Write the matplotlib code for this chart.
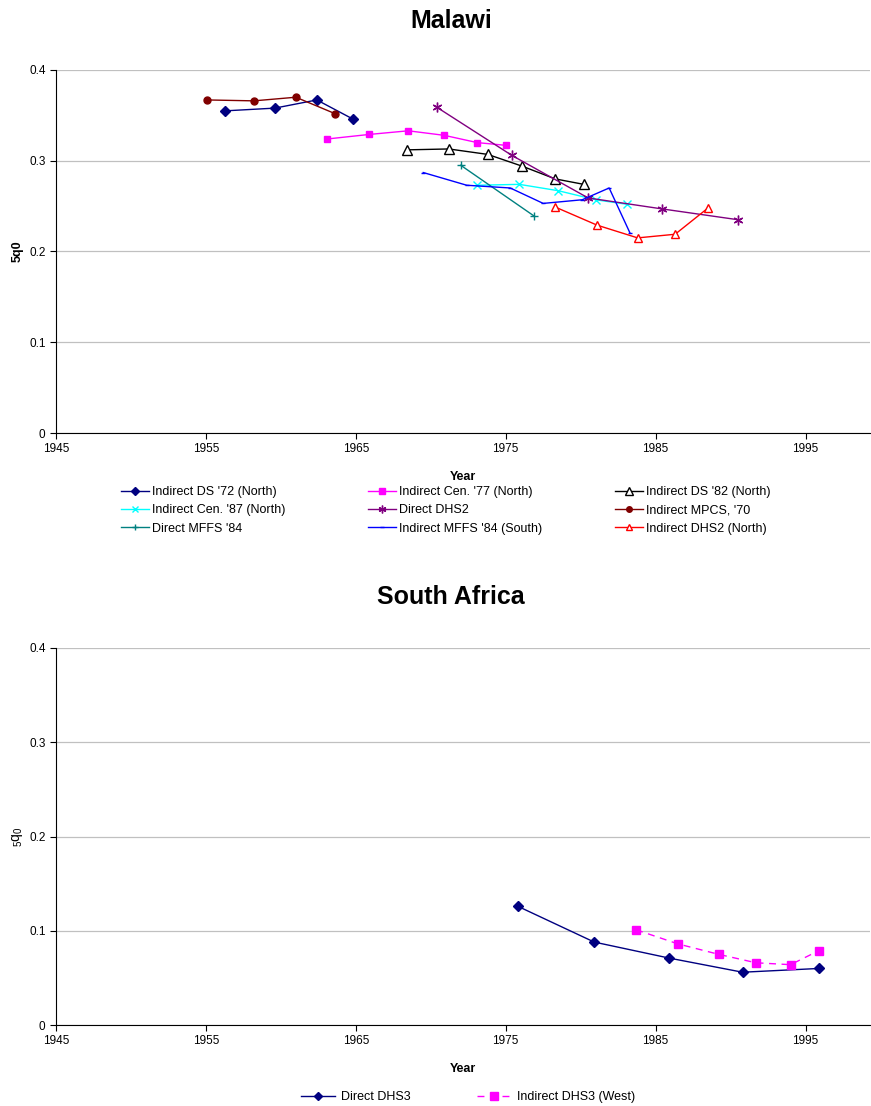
import matplotlib
matplotlib.use("Agg")
from matplotlib import pyplot as plt

plt.rcParams['font.family'] = ['Liberation Sans', 'DejaVu Sans']
plt.rcParams['mathtext.fontset'] = 'custom'
plt.rcParams['mathtext.rm'] = 'Liberation Sans'
plt.rcParams['mathtext.it'] = 'Liberation Sans'

# Malawi series (year, 5q0)
ds72_years = [1956.3, 1959.6, 1962.4, 1964.8]
ds72_q = [0.355, 0.358, 0.367, 0.346]

cen77_years = [1963.1, 1965.9, 1968.5, 1970.9, 1973.1, 1975.0]
cen77_q = [0.324, 0.329, 0.333, 0.328, 0.320, 0.317]

ds82_years = [1968.4, 1971.2, 1973.8, 1976.1, 1978.3, 1980.2]
ds82_q = [0.312, 0.313, 0.307, 0.294, 0.280, 0.274]

cen87_years = [1973.1, 1975.9, 1978.5, 1981.0, 1983.1]
cen87_q = [0.273, 0.274, 0.267, 0.257, 0.252]

dhs2_years = [1970.4, 1975.4, 1980.5, 1985.4, 1990.5]
dhs2_q = [0.359, 0.306, 0.259, 0.247, 0.235]

mpcs_years = [1955.1, 1958.2, 1961.0, 1963.6]
mpcs_q = [0.367, 0.366, 0.370, 0.352]

mffs_years = [1972.0, 1976.9]
mffs_q = [0.295, 0.239]

mffs_s_years = [1969.5, 1972.4, 1975.3, 1977.5, 1980.1, 1981.9, 1983.3]
mffs_s_q = [0.287, 0.273, 0.270, 0.253, 0.257, 0.270, 0.220]

dhs2n_years = [1978.3, 1981.1, 1983.8, 1986.3, 1988.5]
dhs2n_q = [0.249, 0.229, 0.215, 0.219, 0.248]

# South Africa series
dhs3_years = [1975.8, 1980.9, 1985.9, 1990.8, 1995.9]
dhs3_q = [0.126, 0.088, 0.071, 0.056, 0.060]

dhs3w_years = [1983.7, 1986.5, 1989.2, 1991.7, 1994.0, 1995.9]
dhs3w_q = [0.101, 0.086, 0.075, 0.066, 0.064, 0.079]

xticks = [1945, 1955, 1965, 1975, 1985, 1995]
yticks = [0, 0.1, 0.2, 0.3, 0.4]

W, H = 871, 1106


def style_axes(ax):
    ax.set_xlim(1945, 1999.3)
    ax.set_ylim(0, 0.4)
    ax.set_xticks(xticks)
    ax.set_yticks(yticks)
    ax.set_yticklabels(['0', '0.1', '0.2', '0.3', '0.4'])
    ax.yaxis.grid(True, color='#c0c0c0', linewidth=0.9)
    ax.set_axisbelow(True)
    for s in ['top', 'right']:
        ax.spines[s].set_visible(False)
    ax.tick_params(labelsize=8.5, length=4, width=0.8, direction='out')
    ax.set_xlabel('Year', fontsize=9, fontweight='bold', labelpad=11)


fig = plt.figure(figsize=(W / 100, H / 100), dpi=100)

ax1 = fig.add_axes([56 / W, 1 - 433 / H, 814 / W, 363 / H])
ax1.plot(ds72_years, ds72_q, color='#000080', marker='D', markersize=5,
         linewidth=1, label="Indirect DS '72 (North)")
ax1.plot(cen77_years, cen77_q, color='#ff00ff', marker='s', markersize=5,
         linewidth=1, label="Indirect Cen. '77 (North)")
ax1.plot(ds82_years, ds82_q, color='black', marker='^', markersize=7,
         markerfacecolor='white', linewidth=1, label="Indirect DS '82 (North)")
ax1.plot(cen87_years, cen87_q, color='#00ffff', marker='x', markersize=6,
         linewidth=1, label="Indirect Cen. '87 (North)")
ax1.plot(dhs2_years, dhs2_q, color='#800080', marker=(6, 2, 0), markersize=7,
         linewidth=1, label='Direct DHS2')
ax1.plot(mpcs_years, mpcs_q, color='#800000', marker='o', markersize=5,
         linewidth=1, label="Indirect MPCS, '70")
ax1.plot(mffs_years, mffs_q, color='#008080', marker='+', markersize=6,
         linewidth=1, label="Direct MFFS '84")
ax1.plot(mffs_s_years, mffs_s_q, color='#0000ff', marker='_', markersize=3,
         linewidth=1, label="Indirect MFFS '84 (South)")
ax1.plot(dhs2n_years, dhs2n_q, color='#ff0000', marker='^', markersize=6,
         markerfacecolor='white', linewidth=1, label='Indirect DHS2 (North)')
style_axes(ax1)
ax1.set_ylabel('5q0', fontsize=9, fontweight='bold', labelpad=4)

# legend laid out row by row, one legend per column
handles, labels = ax1.get_legend_handles_labels()
col_x = [121, 368, 615]
for c in range(3):
    leg = fig.legend(handles[c::3], labels[c::3], loc='upper left',
                     bbox_to_anchor=(col_x[c] / W, 1 - 486 / H),
                     frameon=False, fontsize=9, handlelength=2.2,
                     labelspacing=0.5, handletextpad=0.3, markerscale=0.8,
                     borderpad=0, borderaxespad=0)

ax2 = fig.add_axes([56 / W, 1 - 1025 / H, 814 / W, 377 / H])
ax2.plot(dhs3_years, dhs3_q, color='#000080', marker='D', markersize=5,
         linewidth=1, label='Direct DHS3')
ax2.plot(dhs3w_years, dhs3w_q, color='#ff00ff', marker='s', markersize=6,
         linewidth=1, linestyle=(0, (5, 4)), label='Indirect DHS3 (West)')
style_axes(ax2)
ax2.set_ylabel(r'${}_5q_0$', fontsize=10, labelpad=3)

handles2, labels2 = ax2.get_legend_handles_labels()
col_x2 = [301, 477]
for c in range(2):
    fig.legend(handles2[c:c + 1], labels2[c:c + 1], loc='upper left',
               bbox_to_anchor=(col_x2[c] / W, 1 - 1091 / H),
               frameon=False, fontsize=9, handlelength=2.7, markerscale=0.85,
               handletextpad=0.5, borderpad=0, borderaxespad=0)

fig.text(451 / W, 1 - 21 / H, 'Malawi', ha='center', va='center',
         fontsize=18, fontweight='bold')
fig.text(451 / W, 1 - 597 / H, 'South Africa', ha='center', va='center',
         fontsize=18, fontweight='bold')

fig.savefig('out.png', dpi=100)
